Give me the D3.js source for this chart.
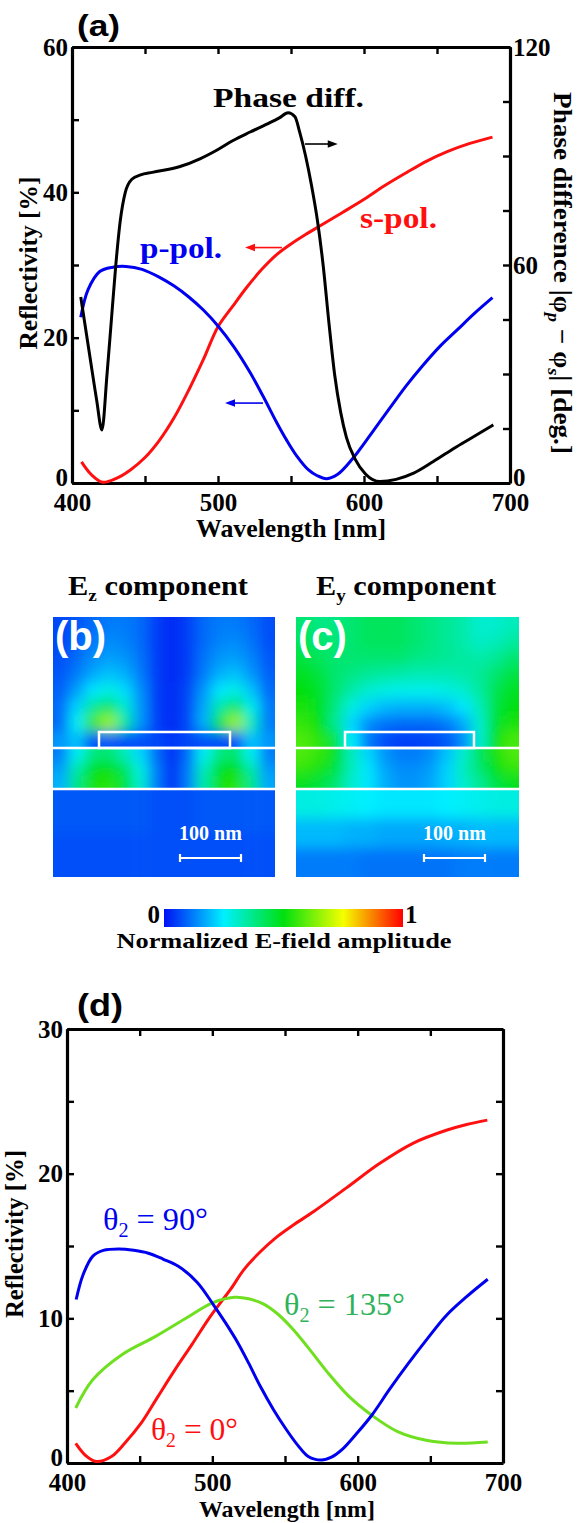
<!DOCTYPE html>
<html>
<head>
<meta charset="utf-8">
<script src="https://cdn.jsdelivr.net/npm/d3@7"></script>
<style>
  body { margin: 0; background: #fff; }
  svg text { font-family: "Liberation Serif", "Times New Roman", serif; font-weight: bold; }
</style>
</head>
<body>
<svg id="fig" width="582" height="1523"></svg>
<script>
// ---------- Data: panel (a) ----------
const phaseWl  = [406, 412.3, 416.9, 420.5, 424, 427, 430, 433, 436.5, 441, 447, 455, 474, 488, 500, 510, 522, 533, 542, 548, 552.7, 556, 560, 564, 568, 572, 576, 580, 584, 588, 594, 601, 611, 622, 634, 647.5, 663.5, 677, 688.6];
const phaseDeg = [51.2, 34.7, 22.8, 14.6, 30, 45, 60, 72, 80, 83.6, 84.8, 85.5, 87.1, 89.3, 91.8, 94.2, 96.6, 98.7, 100.5, 101.9, 100.8, 96.5, 90, 82, 72.5, 60, 44, 29.5, 19.5, 12.5, 6.5, 2.5, 0.4, 1, 2.7, 5.9, 10, 13.2, 16];

const sPolWl = [406.5, 413, 421, 430, 440, 450, 460, 470, 480, 490, 500, 510, 520, 530, 540, 550, 560, 570, 585, 599, 614, 629, 643, 657, 672, 688];
const sPol   = [2.9, 1.2, 0.1, 0.6, 1.8, 3.5, 5.9, 9, 12.8, 17, 21.5, 24.3, 27, 29.4, 31.4, 32.9, 34.2, 35.4, 37.2, 38.9, 40.9, 42.7, 44.3, 45.6, 46.7, 47.6];

const pPolWl = [406, 411, 419, 428, 437, 448, 460, 470, 480, 490, 500, 511, 522, 531, 540, 547, 554, 562, 568, 574.5, 582, 592, 605, 618, 629, 640, 652, 664, 676, 688];
const pPol   = [22.8, 26.6, 29.1, 29.7, 29.8, 29.4, 28.3, 27.1, 25.6, 23.8, 21.6, 18.7, 15.2, 11.9, 8.4, 5.9, 3.7, 1.8, 1.0, 0.6, 1.2, 3.3, 6.8, 10.4, 13.4, 16.1, 18.8, 21.1, 23.4, 25.5];

// ---------- Data: panel (d) ----------
const th90Wl = [406.3, 411, 417.8, 425, 435.8, 446, 456, 466, 476.6, 489.5, 501, 509, 517.6, 525, 533, 542, 551, 559, 566, 575, 582, 589, 599, 609.7, 622, 635, 648, 661, 675, 689.5];
const th90   = [11.3, 13.0, 14.3, 14.7, 14.8, 14.7, 14.5, 14.1, 13.6, 12.5, 10.9, 9.7, 8.3, 6.9, 5.3, 3.7, 2.3, 1.2, 0.45, 0.2, 0.4, 0.9, 2.0, 3.3, 5.1, 6.9, 8.6, 10.2, 11.5, 12.7];

const th0Wl = [406, 413, 420, 430.6, 440, 451, 462, 474, 486, 497, 505, 512.5, 522, 533, 544, 555, 570, 592, 615, 638, 661, 675, 689.2];
const th0   = [1.36, 0.5, 0.1, 0.45, 1.4, 2.75, 4.5, 6.4, 8.2, 9.9, 11.0, 12.0, 13.4, 14.6, 15.6, 16.4, 17.4, 19.0, 20.7, 22.1, 23.0, 23.4, 23.7];

const th135Wl = [406, 417.7, 438, 461, 481.8, 499.7, 515, 525, 535, 545, 555, 565, 579, 594, 609.7, 627.5, 648, 668, 689.5];
const th135   = [3.8, 5.75, 7.5, 8.75, 10.0, 11.05, 11.45, 11.35, 11.0, 10.3, 9.3, 8.1, 6.3, 4.6, 3.3, 2.17, 1.55, 1.36, 1.45];

// ---------- Data: field maps (normalized |E|), rows top->bottom ----------
const ezUpper = [
  [0.06,0.08,0.10,0.12,0.12,0.10,0.05,0.03,0.05,0.10,0.12,0.12,0.10,0.07],
  [0.06,0.09,0.12,0.14,0.13,0.10,0.05,0.03,0.05,0.10,0.13,0.14,0.11,0.07],
  [0.07,0.10,0.14,0.16,0.15,0.11,0.05,0.03,0.05,0.11,0.15,0.16,0.13,0.08],
  [0.08,0.12,0.17,0.20,0.18,0.12,0.05,0.03,0.05,0.12,0.18,0.20,0.15,0.09],
  [0.09,0.16,0.24,0.28,0.23,0.14,0.05,0.03,0.06,0.15,0.24,0.28,0.20,0.10],
  [0.10,0.22,0.36,0.42,0.30,0.15,0.05,0.03,0.06,0.17,0.34,0.42,0.27,0.12],
  [0.10,0.26,0.56,0.66,0.36,0.15,0.05,0.03,0.06,0.18,0.46,0.66,0.33,0.12],
  [0.15,0.20,0.07,0.08,0.07,0.07,0.06,0.04,0.06,0.07,0.07,0.07,0.20,0.15]
];
const ezMiddle = [
  [0.12,0.26,0.38,0.40,0.32,0.22,0.10,0.03,0.10,0.26,0.38,0.40,0.26,0.12],
  [0.16,0.34,0.48,0.50,0.42,0.28,0.12,0.03,0.12,0.32,0.48,0.50,0.34,0.15],
  [0.18,0.38,0.52,0.54,0.46,0.30,0.12,0.03,0.12,0.34,0.51,0.54,0.38,0.17]
];
const ezLower = [
  [0.08,0.08,0.08,0.08,0.08,0.08,0.07,0.07,0.07,0.08,0.08,0.08,0.08,0.08],
  [0.07,0.07,0.07,0.07,0.07,0.07,0.07,0.07,0.07,0.07,0.07,0.07,0.07,0.07]
];
const eyUpper = [
  [0.40,0.38,0.38,0.40,0.42,0.42,0.42,0.40,0.38,0.36,0.34,0.30,0.30,0.32],
  [0.42,0.40,0.39,0.40,0.42,0.42,0.42,0.40,0.38,0.36,0.34,0.31,0.32,0.35],
  [0.45,0.42,0.40,0.40,0.40,0.40,0.40,0.38,0.37,0.36,0.35,0.34,0.36,0.40],
  [0.48,0.45,0.40,0.38,0.36,0.35,0.34,0.33,0.33,0.33,0.34,0.36,0.40,0.45],
  [0.50,0.47,0.40,0.34,0.30,0.28,0.27,0.27,0.27,0.28,0.30,0.35,0.43,0.48],
  [0.52,0.48,0.38,0.28,0.22,0.19,0.18,0.18,0.18,0.20,0.24,0.32,0.45,0.50],
  [0.55,0.50,0.36,0.22,0.14,0.11,0.10,0.10,0.10,0.12,0.17,0.30,0.47,0.52],
  [0.58,0.54,0.45,0.25,0.12,0.07,0.05,0.05,0.06,0.08,0.14,0.30,0.50,0.57]
];
const eyMiddle = [
  [0.58,0.55,0.48,0.32,0.22,0.15,0.12,0.12,0.14,0.20,0.30,0.42,0.52,0.58],
  [0.55,0.52,0.45,0.32,0.24,0.17,0.14,0.14,0.16,0.22,0.32,0.40,0.50,0.55],
  [0.48,0.45,0.40,0.30,0.24,0.18,0.15,0.15,0.17,0.22,0.30,0.36,0.44,0.48]
];
const eyLower = [
  [0.28,0.28,0.27,0.26,0.25,0.24,0.24,0.24,0.24,0.25,0.26,0.27,0.28,0.28],
  [0.19,0.19,0.19,0.18,0.18,0.17,0.17,0.17,0.17,0.18,0.18,0.19,0.19,0.19],
  [0.12,0.12,0.12,0.12,0.11,0.11,0.11,0.11,0.11,0.11,0.12,0.12,0.12,0.12]
];

// colormap (colorbar 0 -> 1)
const cmapStops  = [0, 0.25, 0.5, 0.75, 1];
const cmapColors = ["#0010f5", "#00f0ff", "#00e010", "#f5ff00", "#ff0000"];

// ---------- Setup ----------
const svg = d3.select("#fig");
const defs = svg.append("defs");
const RED = "#ff1010", BLUE = "#0000f0", GREEN = "#6fe020", GREEN_TXT = "#2fb35a";
const fieldColor = d3.scaleLinear().domain(cmapStops).range(cmapColors).clamp(true);

function addText(g, s, x, y, opt = {}) {
  const t = g.append("text").attr("x", x).attr("y", y)
    .attr("font-size", opt.size || 25)
    .attr("fill", opt.fill || "#000")
    .attr("text-anchor", opt.anchor || "start")
    .text(s);
  if (opt.sans) t.style("font-family", "'Liberation Sans', Arial, sans-serif");
  if (opt.normal) t.style("font-weight", "normal");
  if (opt.len) t.attr("textLength", opt.len).attr("lengthAdjust", "spacingAndGlyphs");
  return t;
}

// axes frame with inward ticks
function frame(box, x, y, yTicks, yMinor, opt) {
  const g = svg.append("g");
  const xt = d3.range(400, 701, 50);
  const style = sel => {
    sel.select(".domain").attr("stroke-width", 3.2);
    sel.selectAll(".tick line").attr("stroke-width", 2.4);
    sel.selectAll(".tick text").attr("font-size", 25)
      .style("font-family", "'Liberation Serif','Times New Roman',serif").style("font-weight", "bold");
  };
  g.append("g").attr("transform", `translate(0,${box.bottom})`)
    .call(d3.axisBottom(x).tickValues(xt).tickSizeInner(-7).tickSizeOuter(0).tickPadding(10)
      .tickFormat(d => d % 100 === 0 ? d : "")).call(style);
  g.append("g").attr("transform", `translate(0,${box.top})`)
    .call(d3.axisTop(x).tickValues(xt).tickSizeInner(-7).tickSizeOuter(0).tickFormat("")).call(style);
  const yv = yTicks.concat(yMinor).sort((a, b) => a - b);
  const left = g.append("g").attr("transform", `translate(${box.left},0)`)
    .call(d3.axisLeft(y).tickValues(yv).tickSizeInner(-7).tickSizeOuter(0).tickPadding(4)
      .tickFormat(d => yTicks.includes(d) ? d : "")).call(style);
  const yr = opt.yRight || y;
  const rv = opt.rightTicks ? opt.rightTicks.concat(opt.rightMinor).sort((a, b) => a - b) : yv;
  const right = g.append("g").attr("transform", `translate(${box.right},0)`)
    .call(d3.axisRight(yr).tickValues(rv).tickSizeInner(-7).tickSizeOuter(0).tickPadding(3)
      .tickFormat(d => opt.rightTicks && opt.rightTicks.includes(d) ? d : "")).call(style);
  // lift the zero labels a little so they sit just above the x labels
  [left, right].forEach(a => a.selectAll(".tick text").filter(d => d === 0).attr("dy", "0.1em"));
  return g;
}

function curve(x, y, wl, vals, color, crv) {
  const pts = wl.map((w, i) => [w, vals[i]]);
  svg.append("path").datum(pts)
    .attr("fill", "none").attr("stroke", color).attr("stroke-width", 3)
    .attr("stroke-linejoin", "round")
    .attr("d", d3.line().x(d => x(d[0])).y(d => y(d[1])).curve(crv || d3.curveCatmullRom.alpha(0.5)));
}

function arrow(x, y, w0, w1, v, color) {
  const x0 = x(w0), x1 = x(w1), yy = y(v), dir = Math.sign(x1 - x0);
  svg.append("line").attr("x1", x0).attr("x2", x1 - dir * 6).attr("y1", yy).attr("y2", yy)
    .attr("stroke", color).attr("stroke-width", 1.6);
  svg.append("path")
    .attr("d", `M${x1},${yy} L${x1 - dir * 10},${yy - 3.8} L${x1 - dir * 10},${yy + 3.8} Z`)
    .attr("fill", color);
}

// ---------- Panel (a) ----------
const A = { left: 72, right: 510, top: 47, bottom: 483 };
const xA = d3.scaleLinear().domain([400, 700]).range([A.left, A.right]);
const yA = d3.scaleLinear().domain([0, 60]).range([A.bottom, A.top]);
const yA2 = d3.scaleLinear().domain([0, 120]).range([A.bottom, A.top]);

frame(A, xA, yA, [0, 20, 40, 60], [10, 30, 50],
  { yRight: yA2, rightTicks: [0, 60, 120], rightMinor: [15, 30, 45, 75, 90, 105] });

curve(xA, yA, sPolWl, sPol, RED);
curve(xA, yA, pPolWl, pPol, BLUE);
curve(xA, yA2, phaseWl, phaseDeg, "#000", d3.curveMonotoneX);

arrow(xA, yA2, 559.6, 582, 93.3, "#000");
arrow(xA, yA, 543.8, 518.5, 32.4, RED);
arrow(xA, yA, 530.8, 504.8, 11, BLUE);

addText(svg, "(a)", 77, 36, { size: 29, sans: true, len: 43 });
addText(svg, "Phase diff.", 213, 107, { size: 28, len: 151 });
addText(svg, "p-pol.", 140, 258, { size: 29, fill: BLUE, len: 82 });
addText(svg, "s-pol.", 360, 228, { size: 29, fill: RED, len: 77 });
addText(svg, "Wavelength [nm]", 291, 537, { anchor: "middle", len: 190 });
addText(svg.append("g").attr("transform", "translate(37,263) rotate(-90)"),
  "Reflectivity [%]", 0, 0, { anchor: "middle", len: 173 });

const rl = svg.append("g").attr("transform", "translate(554,273) rotate(90)")
  .append("text").attr("text-anchor", "middle").attr("font-size", 25)
  .attr("textLength", 362).attr("lengthAdjust", "spacingAndGlyphs");
rl.append("tspan").text("Phase difference |φ");
rl.append("tspan").attr("font-style", "italic").attr("font-size", 17).attr("dy", 6).text("p");
rl.append("tspan").attr("dy", -6).text(" − φ");
rl.append("tspan").attr("font-style", "italic").attr("font-size", 17).attr("dy", 6).text("s");
rl.append("tspan").attr("dy", -6).text("| [deg.]");

// ---------- Panels (b), (c) ----------
const FIELD = { top: 617, line1: 748, line2: 789, bottom: 877, rectTop: 732, pad: 24 };
const PANEL_B = { id: "b", x0: 53, x1: 275, rx0: 99, rx1: 230 };
const PANEL_C = { id: "c", x0: 296, x1: 519, rx0: 345, rx1: 474 };

defs.append("filter").attr("id", "soft").attr("x", "-10%").attr("y", "-30%")
  .attr("width", "120%").attr("height", "160%")
  .append("feGaussianBlur").attr("stdDeviation", 6.5);

function drawField(panel, layers) {
  const g = svg.append("g");
  layers.forEach((L, li) => {
    const nR = L.grid.length, nC = L.grid[0].length, P = FIELD.pad;
    const x = d3.scaleLinear().domain([0, nC]).range([panel.x0, panel.x1]);
    const y = d3.scaleLinear().domain([0, nR]).range([L.y0, L.y1]);
    const id = `clip-${panel.id}-${li}`;
    defs.append("clipPath").attr("id", id).append("rect")
      .attr("x", panel.x0).attr("y", L.y0)
      .attr("width", panel.x1 - panel.x0).attr("height", L.y1 - L.y0);
    const cells = L.grid.flatMap((row, r) => row.map((v, c) => ({ r, c, v })));
    const xs = d => x(d.c) - (d.c === 0 ? P : 0), xe = d => x(d.c + 1) + (d.c === nC - 1 ? P : 0) + 0.6;
    const ys = d => y(d.r) - (d.r === 0 ? P : 0), ye = d => y(d.r + 1) + (d.r === nR - 1 ? P : 0) + 0.6;
    g.append("g").attr("clip-path", `url(#${id})`)
      .append("g").attr("filter", "url(#soft)")
      .selectAll("rect").data(cells).join("rect")
      .attr("x", xs).attr("y", ys)
      .attr("width", d => xe(d) - xs(d)).attr("height", d => ye(d) - ys(d))
      .attr("fill", d => fieldColor(d.v));
  });
  // structure outline
  g.append("line").attr("x1", panel.x0).attr("x2", panel.x1).attr("y1", FIELD.line1).attr("y2", FIELD.line1)
    .attr("stroke", "#fff").attr("stroke-width", 2.5);
  g.append("line").attr("x1", panel.x0).attr("x2", panel.x1).attr("y1", FIELD.line2).attr("y2", FIELD.line2)
    .attr("stroke", "#fff").attr("stroke-width", 2.5);
  g.append("rect").attr("x", panel.rx0).attr("y", FIELD.rectTop)
    .attr("width", panel.rx1 - panel.rx0).attr("height", FIELD.line1 - FIELD.rectTop)
    .attr("fill", "none").attr("stroke", "#fff").attr("stroke-width", 2.5);
  // scale bar 100 nm
  const sbx0 = panel.x1 - 95, sbx1 = panel.x1 - 34, sby = 858;
  g.append("path").attr("d", `M${sbx0},${sby - 4}V${sby + 4}M${sbx0},${sby}H${sbx1}M${sbx1},${sby - 4}V${sby + 4}`)
    .attr("stroke", "#fff").attr("stroke-width", 2.2).attr("fill", "none");
  addText(g, "100 nm", (sbx0 + sbx1) / 2, 840, { size: 20, fill: "#fff", anchor: "middle" });
  addText(g, `(${panel.id})`, panel.x0 + 2, 650, { size: 40, fill: "#fff", sans: true });
}

const layersOf = (up, mid, low) => [
  { grid: up, y0: FIELD.top, y1: FIELD.line1 },
  { grid: mid, y0: FIELD.line1, y1: FIELD.line2 },
  { grid: low, y0: FIELD.line2, y1: FIELD.bottom }
];
drawField(PANEL_B, layersOf(ezUpper, ezMiddle, ezLower));
drawField(PANEL_C, layersOf(eyUpper, eyMiddle, eyLower));

function compTitle(x, sub) {
  const t = svg.append("text").attr("x", x).attr("y", 595).attr("font-size", 27)
    .attr("textLength", 180).attr("lengthAdjust", "spacingAndGlyphs");
  t.append("tspan").text("E");
  t.append("tspan").attr("font-size", 17).attr("dy", 6).text(sub);
  t.append("tspan").attr("dy", -6).text(" component");
}
compTitle(68, "z");
compTitle(316, "y");

// colorbar
const CB = { x0: 164, x1: 403, y0: 909, y1: 927 };
const grad = defs.append("linearGradient").attr("id", "jet");
grad.selectAll("stop").data(cmapStops).join("stop")
  .attr("offset", d => d).attr("stop-color", (d, i) => cmapColors[i]);
svg.append("rect").attr("x", CB.x0).attr("y", CB.y0).attr("width", CB.x1 - CB.x0).attr("height", CB.y1 - CB.y0)
  .attr("fill", "url(#jet)");
addText(svg, "0", 160, 922.5, { anchor: "end" });
addText(svg, "1", 405, 922.5);
addText(svg, "Normalized E-field amplitude", 284, 948, { size: 22, anchor: "middle", len: 335 });

// ---------- Panel (d) ----------
const D = { left: 67, right: 503, top: 1029, bottom: 1463 };
const xD = d3.scaleLinear().domain([400, 700]).range([D.left, D.right]);
const yD = d3.scaleLinear().domain([0, 30]).range([D.bottom, D.top]);

frame(D, xD, yD, [0, 10, 20, 30], [5, 15, 25], {});

curve(xD, yD, th0Wl, th0, RED);
curve(xD, yD, th135Wl, th135, GREEN);
curve(xD, yD, th90Wl, th90, BLUE);

function thetaLabel(x, y, val, color, len) {
  const t = svg.append("text").attr("x", x).attr("y", y).attr("font-size", 32)
    .attr("fill", color).style("font-weight", "normal")
    .attr("textLength", len).attr("lengthAdjust", "spacingAndGlyphs");
  t.append("tspan").text("θ");
  t.append("tspan").attr("font-size", 20).attr("dy", 7).text("2");
  t.append("tspan").attr("dy", -7).text(` = ${val}°`);
}
thetaLabel(103, 1230, "90", BLUE, 105);
thetaLabel(284, 1315, "135", GREEN_TXT, 121);
thetaLabel(151, 1440, "0", RED, 87);

addText(svg, "(d)", 77, 1016, { size: 31, sans: true, len: 46 });
addText(svg, "Wavelength [nm]", 287, 1517, { size: 24, anchor: "middle", len: 176 });
addText(svg.append("g").attr("transform", "translate(23,1234) rotate(-90)"),
  "Reflectivity [%]", 0, 0, { anchor: "middle", len: 168 });
</script>
</body>
</html>
